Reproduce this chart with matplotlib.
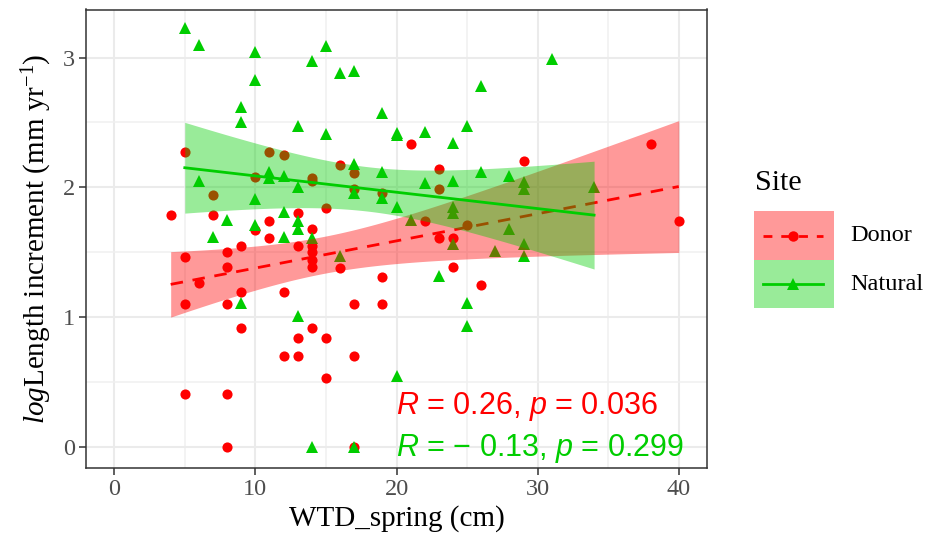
import numpy as np
import matplotlib
matplotlib.use("Agg")
import matplotlib.pyplot as plt
from matplotlib.patches import Rectangle
from matplotlib.lines import Line2D
from matplotlib.ticker import MultipleLocator

plt.rcParams['font.family'] = ['Liberation Serif', 'DejaVu Serif']
plt.rcParams['mathtext.fontset'] = 'custom'
plt.rcParams['mathtext.rm'] = 'Liberation Serif'
plt.rcParams['mathtext.it'] = 'Liberation Serif:italic'
plt.rcParams['mathtext.sf'] = 'Liberation Sans:italic'

# ---------------- data ----------------
donor_x = [4,
           5, 5, 5, 5,
           6,
           7, 7,
           8, 8, 8, 8, 8,
           9, 9, 9,
           10, 10,
           11, 11, 11,
           12, 12, 12,
           13, 13, 13, 13,
           14, 14, 14, 14, 14, 14, 14, 14,
           15, 15, 15,
           16, 16,
           17, 17, 17, 17, 17,
           19, 19, 19,
           21, 22,
           23, 23, 23,
           24, 24,
           25, 26, 29, 38, 40]
donor_y = [1.79,
           2.27, 1.46, 1.10, 0.41,
           1.26,
           1.94, 1.79,
           1.50, 1.39, 1.10, 0.41, 0.00,
           1.55, 1.19, 0.92,
           2.08, 1.67,
           2.27, 1.74, 1.61,
           2.25, 1.19, 0.70,
           1.80, 1.55, 0.84, 0.70,
           2.07, 2.05, 1.68, 1.55, 1.50, 1.44, 1.39, 0.92,
           1.84, 0.84, 0.53,
           2.17, 1.38,
           2.11, 1.99, 1.10, 0.70, 0.00,
           1.96, 1.31, 1.10,
           2.33, 1.74,
           2.14, 1.99, 1.61,
           1.61, 1.39,
           1.71, 1.25, 2.20, 2.33, 1.74]

natural_x = [5,
             6, 6,
             7, 8,
             9, 9, 9,
             10, 10, 10, 10,
             11, 11,
             12, 12, 12,
             13, 13, 13, 13, 13,
             14, 14, 14,
             15, 15,
             16, 16,
             17, 17, 17, 17,
             19, 19, 19,
             20, 20, 20, 20,
             21,
             22, 22,
             23,
             24, 24, 24, 24, 24,
             25, 25, 25,
             26, 26,
             27,
             28, 28,
             29, 29, 29, 29,
             31, 34]
natural_y = [3.23,
             3.10, 2.05,
             1.62, 1.75,
             2.62, 2.50, 1.11,
             3.04, 2.83, 1.91, 1.71,
             2.12, 2.07,
             2.09, 1.81, 1.62,
             2.47, 2.00, 1.74, 1.68, 1.01,
             2.97, 1.61, 0.00,
             3.09, 2.41,
             2.88, 1.47,
             2.90, 2.18, 1.96, 0.00,
             2.57, 2.12, 1.92,
             2.42, 2.40, 1.85, 0.55,
             1.75,
             2.43, 2.03,
             1.32,
             2.34, 2.05, 1.85, 1.80, 1.56,
             2.47, 1.11, 0.93,
             2.78, 2.12,
             1.51,
             2.09, 1.68,
             2.04, 1.99, 1.56, 1.47,
             2.99, 2.00]

site_labels = ["Donor", "Natural"]
stat_labels = [r"$\mathsf{R}$ = 0.26, $\mathsf{p}$ = 0.036",
               r"$\mathsf{R}$ = − 0.13, $\mathsf{p}$ = 0.299"]
x_ticks = [0, 10, 20, 30, 40]
y_ticks = [0, 1, 2, 3]

RED = "#FF0000"
GREEN = "#00CD00"


def fit_ci(x, y, t=2.0, npts=100):
    x = np.asarray(x, float)
    y = np.asarray(y, float)
    n = len(x)
    b, a = np.polyfit(x, y, 1)
    xs = np.linspace(x.min(), x.max(), npts)
    yhat = a + b * xs
    resid = y - (a + b * x)
    s = np.sqrt(np.sum(resid ** 2) / (n - 2))
    sxx = np.sum((x - x.mean()) ** 2)
    se = s * np.sqrt(1.0 / n + (xs - x.mean()) ** 2 / sxx)
    return xs, yhat, yhat - t * se, yhat + t * se


W, H = 927, 541
fig = plt.figure(figsize=(W / 100, H / 100), dpi=100)
ax = fig.add_axes([86 / W, 1 - 467.7 / H, (707 - 86) / W, (467.7 - 9.5) / H])

ax.set_xlim(-2, 42)
ax.set_ylim(-0.16, 3.37)

# points
ax.plot(donor_x, donor_y, 'o', color=RED, ms=7.3, mew=0, zorder=3)
ax.plot(natural_x, natural_y, '^', color=GREEN, ms=8.8, mew=0, zorder=3.1)

# smooths
xs, yh, lo, hi = fit_ci(donor_x, donor_y)
ax.fill_between(xs, lo, hi, color=RED, alpha=0.4, lw=0, zorder=4)
ax.plot(xs, yh, color=RED, lw=2.0, dashes=(4.5, 3.5), zorder=5)
xs, yh, lo, hi = fit_ci(natural_x, natural_y)
ax.fill_between(xs, lo, hi, color=GREEN, alpha=0.4, lw=0, zorder=6)
ax.plot(xs, yh, color=GREEN, lw=2.0, zorder=7)

# stat labels
ax.text(20, 0.31, stat_labels[0], color=RED, fontsize=22, va='center', ha='left',
        family='Liberation Sans', zorder=8)
ax.text(20, -0.01, stat_labels[1], color=GREEN, fontsize=22, va='center', ha='left',
        family='Liberation Sans', zorder=8)

# axes style
ax.set_xticks(x_ticks)
ax.set_yticks(y_ticks)
ax.xaxis.set_minor_locator(MultipleLocator(5))
ax.yaxis.set_minor_locator(MultipleLocator(0.5))
ax.grid(True, which='major', color='#EBEBEB', lw=1.5, zorder=0)
ax.grid(True, which='minor', color='#F0F0F0', lw=1.1, zorder=0)
ax.set_axisbelow(True)
ax.tick_params(which='major', labelsize=17.5, labelcolor='#4D4D4D', color='#333333',
               length=5, width=1.1, pad=3)
ax.tick_params(which='minor', length=0)
for sp in ax.spines.values():
    sp.set_color('#333333')
    sp.set_linewidth(1.1)

ax.set_xlabel('WTD_spring (cm)', fontsize=21, labelpad=4)
ax.set_ylabel(r'$\mathit{log}$Length increment (mm yr$^{-1}$)', fontsize=21, labelpad=6)

# manual legend (pixel coordinates from top-left)
def fx(px):
    return px / W


def fy(py):
    return 1 - py / H


fig.text(fx(755), fy(183), 'Site', fontsize=21.6, va='center', ha='left')
keys = [(RED, '--', 'o', 211, 260), (GREEN, '-', '^', 260, 308)]
for (col, ls, mk, top, bot), lab in zip(keys, site_labels):
    fig.add_artist(Rectangle((fx(754), fy(bot)), fx(834) - fx(754), fy(top) - fy(bot),
                             transform=fig.transFigure, facecolor=col, alpha=0.4, lw=0))
    yc = fy((top + bot) / 2)
    ln = Line2D([fx(763), fx(823)], [yc, yc], transform=fig.transFigure, color=col,
                lw=2.0, ls=ls, dashes=(3.2, 3.2) if ls == '--' else (None, None))
    if ls == '-':
        ln = Line2D([fx(763), fx(823)], [yc, yc], transform=fig.transFigure, color=col, lw=2.0)
    fig.add_artist(ln)
    fig.add_artist(Line2D([fx(793)], [yc], transform=fig.transFigure, color=col,
                          marker=mk, ms=7.5 if mk == 'o' else 8.8, mew=0, ls='none'))
    fig.text(fx(850), yc, lab, fontsize=17.5, va='center', ha='left')

fig.savefig('out.png', dpi=100)
